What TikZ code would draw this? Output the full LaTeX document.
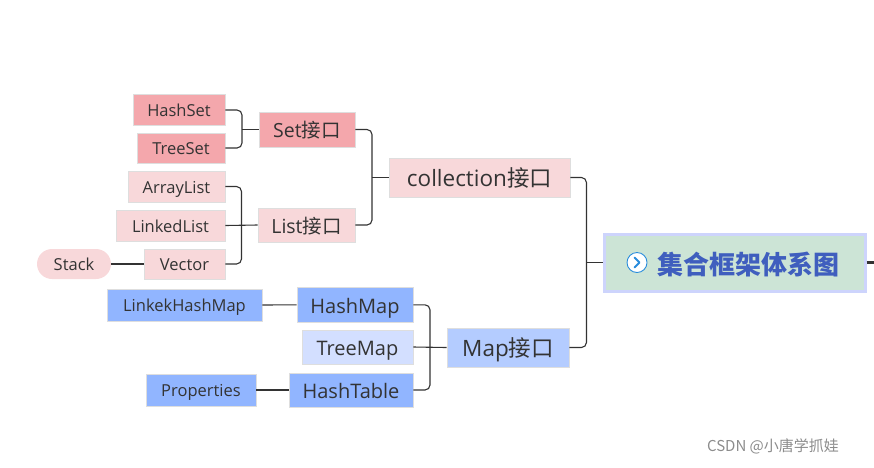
\documentclass[tikz,border=0pt]{standalone}
\usepackage{fontspec}
\setmainfont{Open Sans}
\newfontfamily\cjk{Noto Sans CJK SC}
\usetikzlibrary{calc}
\definecolor{pinkA}{RGB}{244,167,172}
\definecolor{pinkB}{RGB}{248,216,218}
\definecolor{blueA}{RGB}{145,181,255}
\definecolor{blueB}{RGB}{180,204,255}
\definecolor{blueC}{RGB}{211,223,255}
\definecolor{rootfill}{RGB}{204,228,214}
\definecolor{rootdraw}{RGB}{205,212,252}
\definecolor{roottext}{RGB}{63,94,190}
\definecolor{txt}{RGB}{51,51,51}
\definecolor{bord}{RGB}{222,222,222}
\definecolor{iconblue}{RGB}{40,140,220}
\tikzset{
  box/.style={draw=bord, line width=0.8pt, inner sep=0pt, text=txt, align=center},
  leaf/.style={box, font=\fontsize{16.5}{19}\selectfont, text height=16.3pt, text depth=2.5pt},
  mid/.style={box, font=\fontsize{19.5}{23}\selectfont, text height=19.3pt, text depth=3pt},
  midb/.style={box, font=\fontsize{20}{24}\selectfont, text height=19.8pt, text depth=3.1pt},
  big/.style={box, font=\fontsize{22.5}{26}\selectfont, text height=22.3pt, text depth=3.5pt},
  conn/.style={draw=txt, line width=1.1pt, rounded corners=5pt},
}
\begin{document}
\begin{tikzpicture}[x=1pt,y=-1pt]
\useasboundingbox (0,0) rectangle (874,467);
% Set group
\node[leaf, fill=pinkA, minimum width=92, minimum height=31] (hashset) at (179,110) {HashSet};
\node[leaf, fill=pinkA, minimum width=88, minimum height=30] (treeset) at (181,148) {TreeSet};
\node[mid, fill=pinkA, minimum width=96, minimum height=35] (set) at (307,129.5) {Set{\cjk 接口}};
% List group
\node[leaf, fill=pinkB, minimum width=97, minimum height=31] (arraylist) at (176.5,186.5) {ArrayList};
\node[leaf, fill=pinkB, minimum width=109, minimum height=31] (linkedlist) at (170.5,225.5) {LinkedList};
\node[leaf, fill=pinkB, minimum width=81, minimum height=30] (vector) at (184.5,264) {Vector};
\node[leaf, fill=pinkB, draw=none, rounded corners=15pt, minimum width=74, minimum height=30] (stack) at (74,264) {Stack};
\node[mid, fill=pinkB, minimum width=97, minimum height=34] (list) at (306.5,225) {List{\cjk 接口}};
\node[big, fill=pinkB, minimum width=181, minimum height=39] (collection) at (479.5,177.5) {collection{\cjk 接口}};
% Map group
\node[leaf, fill=blueA, minimum width=155, minimum height=32] (linkedhashmap) at (184.5,305) {LinkekHashMap};
\node[midb, fill=blueA, minimum width=116, minimum height=35] (hashmap) at (355,304.8) {HashMap};
\node[midb, fill=blueC, minimum width=111, minimum height=34] (treemap) at (357.5,347) {TreeMap};
\node[midb, fill=blueA, minimum width=124, minimum height=34] (hashtable) at (351,390) {HashTable};
\node[leaf, fill=blueA, minimum width=110, minimum height=32] (properties) at (201,390) {Properties};
\node[big, fill=blueB, minimum width=122, minimum height=39] (map) at (508,347.5) {Map{\cjk 接口}};
% Root
\node[draw=rootdraw, fill=rootfill, line width=3pt, minimum width=261, minimum height=57, inner sep=0pt] (root) at (734.5,262.5) {};
\node[font=\fontsize{26}{30}\selectfont\cjk\bfseries, text=roottext, inner sep=0pt] (roottitle) at (748,264.5) {集合框架体系图};
\node[circle, draw=iconblue, fill=white, line width=0.9pt, minimum size=20pt, inner sep=0pt] (icon) at (637,262.5) {};
\draw[iconblue, line width=1.8pt, line cap=round, line join=round] ($(icon.center)+(-2.5,-5)$) -- ($(icon.center)+(2.5,0)$) -- ($(icon.center)+(-2.5,5)$);
\coordinate (stub) at (874,262.5);
\draw[draw=txt, line width=3pt] (root.east) -- (stub);
% junctions
\coordinate (js) at ($(hashset.east)!0.5!(set.west)$);
\coordinate (jl) at ($(linkedlist.east)!0.5!(list.west)$);
\coordinate (jc) at ($(set.east)!0.5!(collection.west)$);
\coordinate (jr) at ($(collection.east)!0.5!(root.west)$);
\coordinate (jm) at ($(hashmap.east)!0.5!(map.west)$);
% connectors
\draw[conn] (hashset.east) -| (js) |- (treeset.east);
\draw[conn] (set.west) -- (set.west -| js);
\draw[conn] (arraylist.east) -| (jl) |- (vector.east);
\draw[conn] (linkedlist.east) -- (list.west);
\draw[conn] (stack.east) -- (vector.west);
\draw[conn] (set.east) -| (jc) |- (list.east);
\draw[conn] (collection.west) -- (collection.west -| jc);
\draw[conn] (collection.east) -| (jr) |- (map.east);
\draw[conn] (root.west) -- (root.west -| jr);
\draw[conn] (hashmap.east) -| (jm) |- (hashtable.east);
\draw[conn] (treemap.east) -- (map.west);
\draw[conn] (linkedhashmap.east) -- (hashmap.west);
\draw[conn] (properties.east) -- (hashtable.west);
% watermark
\node[font=\fontsize{15}{18}\selectfont\cjk, text=black!45, inner sep=0pt] (wm) at (773,446) {CSDN @小唐学抓娃};
\end{tikzpicture}
\end{document}
